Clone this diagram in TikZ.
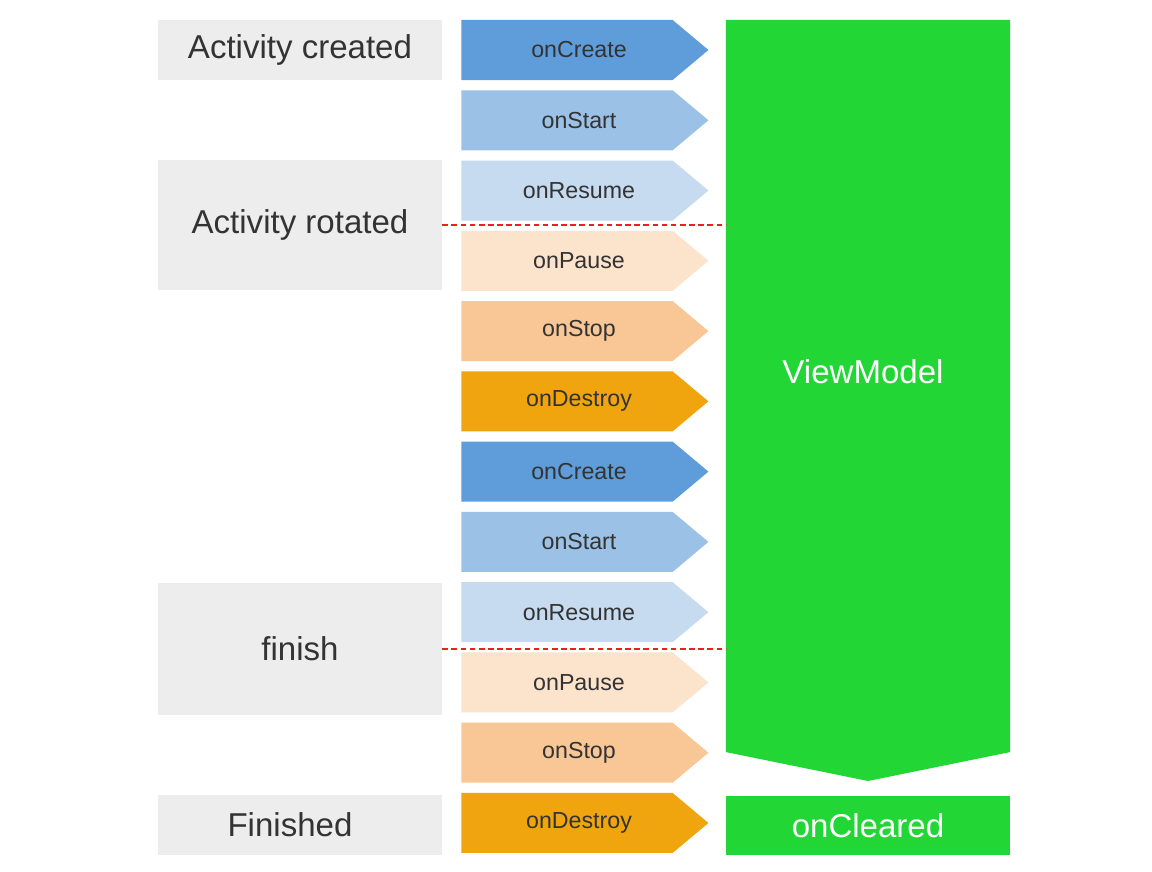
\documentclass[tikz,border=0pt]{standalone}
\usepackage{fontspec}
\setmainfont{Liberation Sans}
\usetikzlibrary{shapes.symbols}

\definecolor{cCreate}{HTML}{5E9CDA}
\definecolor{cStart}{HTML}{9BC2E6}
\definecolor{cResume}{HTML}{C6DBF0}
\definecolor{cPause}{HTML}{FCE3CB}
\definecolor{cStop}{HTML}{F8C795}
\definecolor{cDestroy}{HTML}{F0A50F}
\definecolor{vmgreen}{HTML}{22D636}
\definecolor{boxgray}{HTML}{EDEDED}
\definecolor{txtgray}{HTML}{333333}
\definecolor{cutred}{HTML}{E8201E}

\begin{document}
\begin{tikzpicture}[x=0.025cm,y=-0.025cm]
			\path[fill=white,use as bounding box] (0,0) rectangle (1152,872);

			% what happens to the activity
			\begin{scope}[every node/.style={fill=boxgray,minimum width=7.1cm,inner sep=0,text=txtgray,font=\fontsize{23.5}{28}\selectfont}]
				\node[minimum height=1.5cm] (created) at (300,50) {Activity created};
				\node[minimum height=3.25cm] (rotated) at (300,225) {Activity rotated};
				\node[minimum height=3.3cm] (finish) at (300,649) {finish};
				\node[minimum height=1.5cm] (finished) at (300,825) {Finished\kern0.5cm};
			\end{scope}

			% lifecycle callbacks
			\begin{scope}[every node/.style={signal,signal to=east,signal pointer angle=80,inner sep=0,minimum width=6.175cm,minimum height=1.5cm,text=txtgray,font=\fontsize{16.5}{19}\selectfont}]
				\foreach \lbl/\col [count=\i from 0] in {onCreate/cCreate,onStart/cStart,onResume/cResume,onPause/cPause,onStop/cStop,onDestroy/cDestroy,onCreate/cCreate,onStart/cStart,onResume/cResume,onPause/cPause,onStop/cStop,onDestroy/cDestroy}
					\node[fill=\col] (ev\i) at (567,{50+70.27*\i}) {\kern0.6cm\lbl};
			\end{scope}

			% the viewmodel lives on
			\begin{scope}[every node/.style={text=white,inner sep=0,font=\fontsize{23.5}{28}\selectfont}]
				\node[signal,signal to=south,signal pointer angle=157,fill=vmgreen,minimum width=7.1cm,minimum height=18.3cm] (vm) at (868,386) {};
				\node (vmtext) at (863,372) {ViewModel};
				\node[fill=vmgreen,minimum width=7.1cm,minimum height=1.475cm] (cleared) at (868,825.5) {onCleared};
			\end{scope}

			\begin{scope}[every path/.style={draw=cutred,line width=1.7pt,dash pattern=on 4pt off 2.5pt}]
				\path (rotated.east) -- (rotated.east -| vm.west);
				\path (finish.east) -- (finish.east -| vm.west);
			\end{scope}
		\end{tikzpicture}
\end{document}
